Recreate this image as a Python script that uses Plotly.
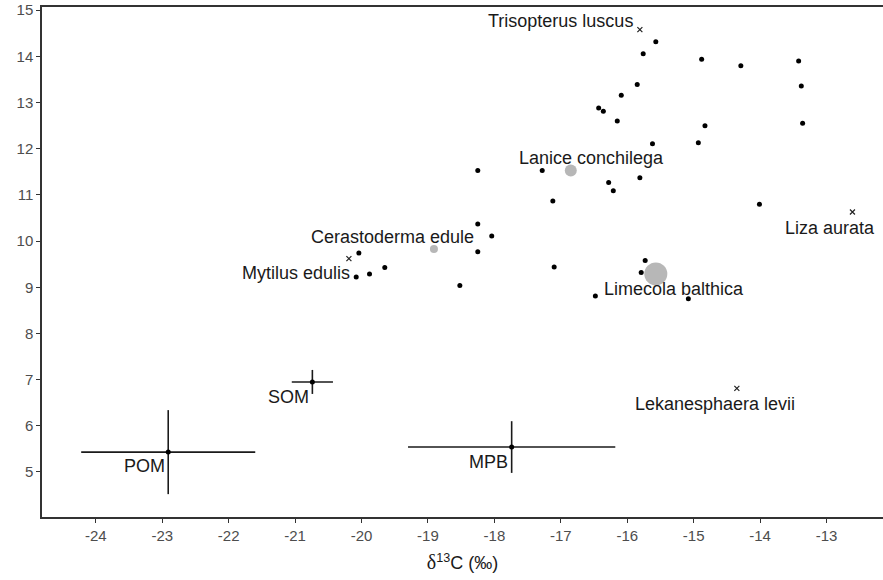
import plotly.graph_objects as go

# Individual consumer samples (black dots)
dots_x = [-15.57, -15.76, -14.88, -14.29, -13.42, -13.38, -13.36, -15.85, -16.09, -16.43,
          -16.36, -16.15, -14.83, -15.62, -14.93, -15.81, -16.28, -16.21, -14.01, -15.73,
          -15.79, -16.48, -15.08, -18.25, -17.28, -17.12, -18.25, -18.04, -18.25, -20.04,
          -19.65, -19.88, -20.08, -18.52, -17.10]
dots_y = [14.32, 14.06, 13.94, 13.80, 13.90, 13.36, 12.55, 13.39, 13.16, 12.88,
          12.81, 12.60, 12.50, 12.11, 12.13, 11.37, 11.27, 11.09, 10.80, 9.58,
          9.32, 8.81, 8.75, 11.53, 11.53, 10.87, 10.37, 10.11, 9.77, 9.74,
          9.43, 9.29, 9.22, 9.04, 9.44]

# Bivalve / polychaete species means (grey circles)
grey_names = ["Lanice conchilega", "Cerastoderma edule", "Limecola balthica"]
grey_x = [-16.85, -18.91, -15.57]
grey_y = [11.53, 9.83, 9.29]
grey_size = [12, 8, 23]

# Other species (crosses)
cross_names = ["Trisopterus luscus", "Mytilus edulis", "Liza aurata", "Lekanesphaera levii"]
cross_x = [-15.81, -20.19, -12.61, -14.35]
cross_y = [14.58, 9.62, 10.63, 6.81]

# Sources with mean ± sd
src_names = ["POM", "SOM", "MPB"]
src_x = [-22.91, -20.74, -17.74]
src_y = [5.43, 6.95, 5.54]
src_sdx = [1.31, 0.31, 1.56]
src_sdy = [0.91, 0.26, 0.56]

# Label positions (layout)
grey_lab_x = [-16.54, -19.54, -15.30]
grey_lab_y = [11.80, 10.08, 8.97]
cross_lab_x = [-17.00, -20.99, -12.95, -14.68]
cross_lab_y = [14.76, 9.31, 10.28, 6.48]
src_lab_x = [-23.26, -21.10, -18.09]
src_lab_y = [5.12, 6.62, 5.22]

x_ticks = [-24, -23, -22, -21, -20, -19, -18, -17, -16, -15, -14, -13]
y_ticks = [5, 6, 7, 8, 9, 10, 11, 12, 13, 14, 15]

fig = go.Figure()

fig.add_trace(go.Scatter(
    x=src_x, y=src_y, mode="markers",
    marker=dict(color="black", size=5),
    error_x=dict(type="data", array=src_sdx, visible=True, width=0, thickness=1.6, color="#1a1a1a"),
    error_y=dict(type="data", array=src_sdy, visible=True, width=0, thickness=1.6, color="#1a1a1a"),
    showlegend=False, hoverinfo="skip"))

fig.add_trace(go.Scatter(
    x=dots_x, y=dots_y, mode="markers",
    marker=dict(color="black", size=5), showlegend=False))

fig.add_trace(go.Scatter(
    x=grey_x, y=grey_y, mode="markers", text=grey_names,
    marker=dict(color="#999999", size=grey_size, line=dict(width=0)), showlegend=False))

fig.add_trace(go.Scatter(
    x=cross_x, y=cross_y, mode="markers", text=cross_names,
    marker=dict(symbol="x-thin", color="#222222", size=5, line=dict(width=1.2, color="#222222")),
    showlegend=False))

lab_font = dict(family="Liberation Sans, Arial, sans-serif", size=18, color="#1a1a1a")
for names, lx, ly in [(grey_names, grey_lab_x, grey_lab_y),
                      (cross_names, cross_lab_x, cross_lab_y),
                      (src_names, src_lab_x, src_lab_y)]:
    for n, xx, yy in zip(names, lx, ly):
        fig.add_annotation(x=xx, y=yy, text=n, showarrow=False, font=lab_font,
                           xanchor="center", yanchor="middle")

axis_common = dict(showgrid=False, zeroline=False, showline=True, linecolor="#333333",
                   linewidth=1.5, ticks="outside", ticklen=4, tickwidth=1.2, tickcolor="#333333",
                   tickfont=dict(family="Liberation Sans, Arial, sans-serif", size=15, color="#4d4d4d"))

fig.update_xaxes(range=[-24.81, -12.15], tickvals=x_ticks, ticktext=[str(v) for v in x_ticks],
                 mirror=True,
                 title=dict(text='<span style="font-family:Liberation Serif;font-size:20px">δ</span><sup>13</sup>C (‰)',
                            font=dict(family="Liberation Sans, Arial, sans-serif", size=18, color="#1a1a1a"),
                            standoff=14),
                 **axis_common)
fig.update_yaxes(range=[4.025, 15.07], tickvals=y_ticks, ticktext=[str(v) for v in y_ticks],
                 **axis_common)

fig.update_layout(width=883, height=580, plot_bgcolor="white", paper_bgcolor="white",
                  margin=dict(l=42, r=0, t=7, b=63))

fig.write_html("out.html", config={"displayModeBar": False},
               post_script="document.body.style.margin='0';document.body.style.padding='0';")
